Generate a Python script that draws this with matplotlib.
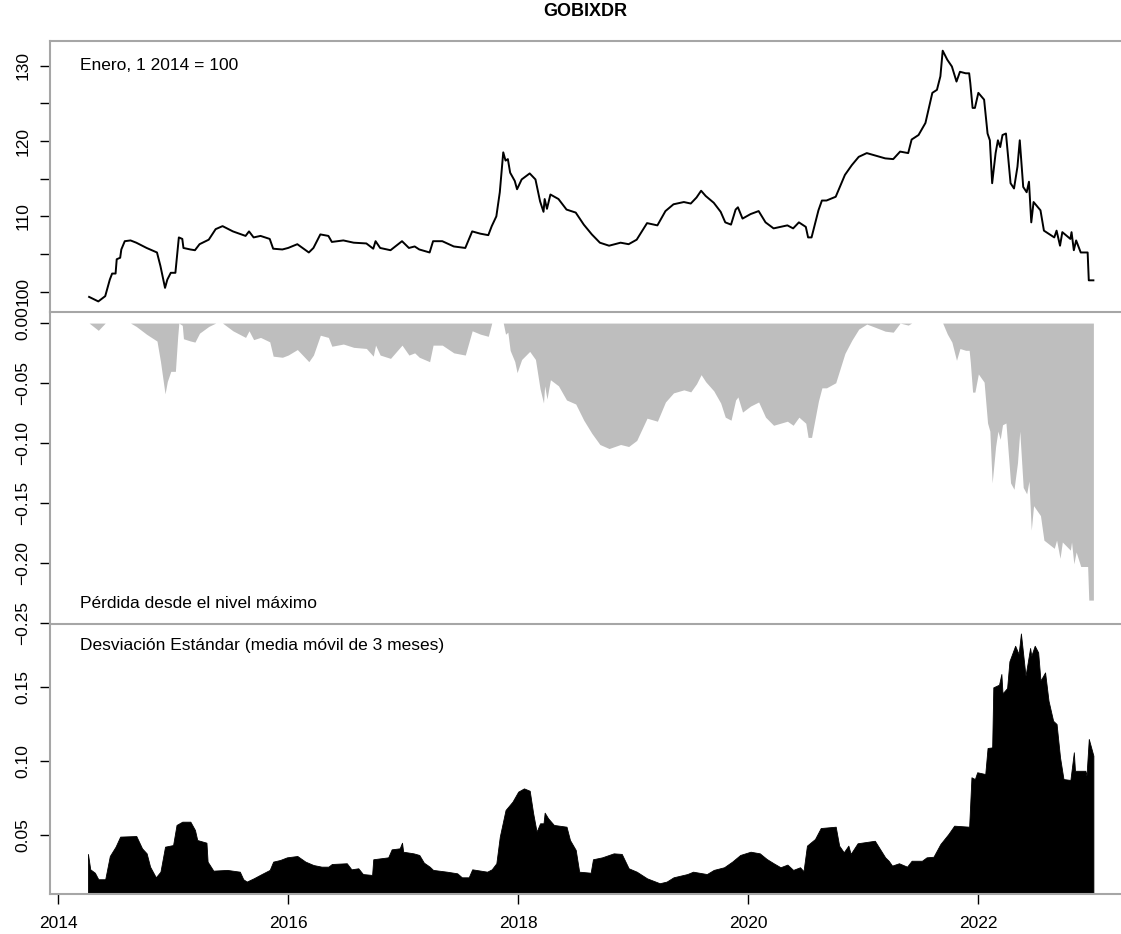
"""GOBIXDR index: level, drawdown and rolling standard deviation."""

import matplotlib
matplotlib.use("Agg")
import matplotlib.pyplot as plt
import numpy as np

plt.rcParams["font.family"] = ["Liberation Sans", "DejaVu Sans"]

TITLE = "GOBIXDR"
INDEX_LABEL = "Enero, 1 2014 = 100"
DD_LABEL = "Pérdida desde el nivel máximo"
STD_LABEL = "Desviación Estándar (media móvil de 3 meses)"

# index level (decimal year, value)
index_years = [
    2014.27, 2014.35, 2014.41, 2014.45, 2014.47, 2014.50, 2014.51, 2014.54, 2014.55, 2014.58,
    2014.63, 2014.68, 2014.77, 2014.86, 2014.89, 2014.93, 2014.95, 2014.98, 2015.02, 2015.04,
    2015.05, 2015.08, 2015.09, 2015.15, 2015.19, 2015.23, 2015.31, 2015.37, 2015.43, 2015.52,
    2015.63, 2015.66, 2015.70, 2015.76, 2015.84, 2015.87, 2015.95, 2016.00, 2016.08, 2016.18,
    2016.22, 2016.28, 2016.35, 2016.38, 2016.48, 2016.57, 2016.68, 2016.74, 2016.76, 2016.80,
    2016.89, 2016.99, 2017.05, 2017.10, 2017.14, 2017.23, 2017.26, 2017.34, 2017.44, 2017.54,
    2017.60, 2017.67, 2017.74, 2017.77, 2017.81, 2017.84, 2017.87, 2017.89, 2017.91, 2017.93,
    2017.97, 2017.99, 2018.03, 2018.10, 2018.15, 2018.19, 2018.22, 2018.23, 2018.25, 2018.28,
    2018.35, 2018.42, 2018.50, 2018.57, 2018.64, 2018.71, 2018.79, 2018.89, 2018.96, 2019.03,
    2019.12, 2019.21, 2019.28, 2019.35, 2019.44, 2019.50, 2019.55, 2019.59, 2019.63, 2019.70,
    2019.76, 2019.80, 2019.85, 2019.89, 2019.91, 2019.95, 2020.02, 2020.09, 2020.15, 2020.22,
    2020.34, 2020.39, 2020.44, 2020.50, 2020.52, 2020.55, 2020.61, 2020.64, 2020.68, 2020.76,
    2020.84, 2020.90, 2020.96, 2021.03, 2021.10, 2021.19, 2021.26, 2021.32, 2021.39, 2021.42,
    2021.48, 2021.54, 2021.60, 2021.64, 2021.67, 2021.69, 2021.73, 2021.77, 2021.81, 2021.84,
    2021.89, 2021.92, 2021.93, 2021.95, 2021.97, 2022.00, 2022.05, 2022.08, 2022.10, 2022.12,
    2022.15, 2022.17, 2022.19, 2022.21, 2022.24, 2022.28, 2022.31, 2022.34, 2022.36, 2022.39,
    2022.42, 2022.44, 2022.46, 2022.48, 2022.54, 2022.57, 2022.66, 2022.68, 2022.71, 2022.73,
    2022.80, 2022.81, 2022.83, 2022.85, 2022.89, 2022.95, 2022.96, 2023.00,
]
index_values = [
    99.3, 98.7, 99.4, 101.6, 102.4, 102.4, 104.3, 104.5, 105.6, 106.7,
    106.8, 106.5, 105.8, 105.2, 103.4, 100.5, 101.6, 102.5, 102.5, 105.6,
    107.2, 107.0, 105.8, 105.6, 105.5, 106.3, 106.9, 108.3, 108.7, 108.0,
    107.4, 108.0, 107.2, 107.4, 107.0, 105.7, 105.6, 105.8, 106.3, 105.2,
    105.8, 107.6, 107.4, 106.6, 106.8, 106.5, 106.4, 105.7, 106.7, 105.8,
    105.5, 106.7, 105.8, 106.0, 105.6, 105.2, 106.7, 106.7, 106.0, 105.8,
    108.0, 107.7, 107.5, 108.7, 110.0, 113.2, 118.5, 117.4, 117.6, 115.8,
    114.7, 113.6, 114.9, 115.7, 114.9, 112.0, 110.6, 112.3, 111.0, 112.9,
    112.3, 110.9, 110.5, 108.9, 107.6, 106.5, 106.1, 106.5, 106.3, 106.9,
    109.1, 108.8, 110.7, 111.6, 111.9, 111.7, 112.5, 113.4, 112.7, 111.8,
    110.6, 109.2, 108.9, 110.9, 111.2, 109.7, 110.3, 110.7, 109.2, 108.4,
    108.8, 108.4, 109.2, 108.6, 107.2, 107.2, 110.8, 112.1, 112.1, 112.6,
    115.5, 116.8, 117.9, 118.4, 118.1, 117.7, 117.6, 118.6, 118.4, 120.2,
    120.8, 122.4, 126.4, 126.8, 128.6, 132.0, 130.8, 129.9, 127.9, 129.2,
    129.0, 129.0, 127.7, 124.4, 124.4, 126.4, 125.5, 121.0, 120.1, 114.4,
    118.4, 120.1, 119.2, 120.8, 121.0, 114.4, 113.7, 116.6, 120.1, 113.9,
    113.2, 114.6, 109.2, 111.9, 110.8, 108.1, 107.2, 108.1, 106.1, 107.9,
    107.0, 107.9, 105.5, 106.8, 105.2, 105.2, 101.5, 101.5,
]

# 3-month rolling standard deviation (decimal year, value)
std_years = [
    2014.26, 2014.28, 2014.32, 2014.35, 2014.41, 2014.45, 2014.50, 2014.54, 2014.68, 2014.73,
    2014.77, 2014.80, 2014.85, 2014.89, 2014.93, 2015.00, 2015.03, 2015.08, 2015.15, 2015.19,
    2015.21, 2015.29, 2015.30, 2015.35, 2015.47, 2015.58, 2015.61, 2015.64, 2015.70, 2015.77,
    2015.84, 2015.87, 2015.93, 2015.99, 2016.08, 2016.15, 2016.22, 2016.29, 2016.35, 2016.38,
    2016.51, 2016.55, 2016.61, 2016.65, 2016.73, 2016.74, 2016.87, 2016.90, 2016.97, 2016.99,
    2017.00, 2017.09, 2017.14, 2017.18, 2017.23, 2017.26, 2017.38, 2017.47, 2017.51, 2017.57,
    2017.60, 2017.73, 2017.77, 2017.81, 2017.84, 2017.89, 2017.95, 2018.00, 2018.05, 2018.10,
    2018.13, 2018.16, 2018.19, 2018.22, 2018.23, 2018.26, 2018.31, 2018.42, 2018.45, 2018.50,
    2018.53, 2018.63, 2018.65, 2018.73, 2018.83, 2018.90, 2018.96, 2019.03, 2019.12, 2019.23,
    2019.29, 2019.35, 2019.47, 2019.52, 2019.64, 2019.70, 2019.79, 2019.86, 2019.93, 2020.02,
    2020.10, 2020.16, 2020.22, 2020.28, 2020.34, 2020.39, 2020.45, 2020.48, 2020.51, 2020.58,
    2020.63, 2020.76, 2020.79, 2020.83, 2020.87, 2020.89, 2020.95, 2021.10, 2021.19, 2021.22,
    2021.25, 2021.31, 2021.38, 2021.42, 2021.51, 2021.55, 2021.61, 2021.67, 2021.74, 2021.79,
    2021.92, 2021.94, 2021.97, 2021.99, 2022.06, 2022.08, 2022.12, 2022.13, 2022.18, 2022.20,
    2022.21, 2022.25, 2022.27, 2022.32, 2022.35, 2022.37, 2022.41, 2022.45, 2022.46, 2022.49,
    2022.52, 2022.54, 2022.58, 2022.61, 2022.65, 2022.68, 2022.71, 2022.74, 2022.80, 2022.83,
    2022.84, 2022.93, 2022.94, 2022.96, 2023.00,
]
std_values = [
    0.0372, 0.0268, 0.0245, 0.0201, 0.0201, 0.0358, 0.0421, 0.0489, 0.0493, 0.0410,
    0.0376, 0.0286, 0.0214, 0.0252, 0.0421, 0.0432, 0.0568, 0.0590, 0.0590, 0.0534,
    0.0466, 0.0448, 0.0320, 0.0259, 0.0264, 0.0252, 0.0201, 0.0185, 0.0207, 0.0236,
    0.0264, 0.0320, 0.0331, 0.0349, 0.0358, 0.0320, 0.0297, 0.0286, 0.0286, 0.0304,
    0.0309, 0.0268, 0.0275, 0.0236, 0.0230, 0.0336, 0.0349, 0.0403, 0.0410, 0.0448,
    0.0387, 0.0376, 0.0365, 0.0313, 0.0286, 0.0264, 0.0252, 0.0241, 0.0214, 0.0214,
    0.0268, 0.0252, 0.0268, 0.0309, 0.0489, 0.0669, 0.0725, 0.0793, 0.0815, 0.0799,
    0.0647, 0.0522, 0.0579, 0.0579, 0.0651, 0.0613, 0.0568, 0.0556, 0.0466, 0.0399,
    0.0252, 0.0245, 0.0336, 0.0349, 0.0376, 0.0372, 0.0275, 0.0252, 0.0207, 0.0174,
    0.0185, 0.0214, 0.0236, 0.0252, 0.0236, 0.0264, 0.0282, 0.0320, 0.0365, 0.0387,
    0.0376, 0.0338, 0.0309, 0.0282, 0.0300, 0.0264, 0.0282, 0.0255, 0.0428, 0.0473,
    0.0547, 0.0556, 0.0428, 0.0383, 0.0428, 0.0372, 0.0444, 0.0461, 0.0349, 0.0326,
    0.0293, 0.0309, 0.0286, 0.0326, 0.0326, 0.0349, 0.0353, 0.0439, 0.0507, 0.0563,
    0.0556, 0.0890, 0.0878, 0.0924, 0.0912, 0.1088, 0.1092, 0.1498, 0.1516, 0.1588,
    0.1457, 0.1493, 0.1674, 0.1779, 0.1723, 0.1862, 0.1576, 0.1764, 0.1711, 0.1779,
    0.1734, 0.1543, 0.1599, 0.1407, 0.1272, 0.1250, 0.1025, 0.0878, 0.0872, 0.1059,
    0.0934, 0.0934, 0.0901, 0.1149, 0.1036,
]

year_ticks = [2014, 2016, 2018, 2020, 2022]

GRID_GRAY = "#a6a6a6"
FILL_GRAY = "#bebebe"
XLIM = (2013.93, 2023.24)
FONT_SIZE = 12.5


def style_panel(ax, show_x=False):
    ax.set_xlim(*XLIM)
    ax.spines["right"].set_visible(False)
    for side in ("left", "top", "bottom"):
        ax.spines[side].set_color(GRID_GRAY)
        ax.spines[side].set_linewidth(1.5)
    if not show_x:
        ax.spines["bottom"].set_visible(False)
        ax.tick_params(axis="x", bottom=False, labelbottom=False)
    else:
        ax.set_xticks(year_ticks)
        ax.set_xticklabels([str(y) for y in year_ticks])
        ax.tick_params(axis="x", direction="out", length=7, width=1,
                       color="black", labelsize=FONT_SIZE, pad=9)
    ax.tick_params(axis="y", direction="out", length=7, width=1,
                   color="black", labelsize=FONT_SIZE, pad=7, labelrotation=90)
    for lbl in ax.get_yticklabels():
        lbl.set_va("center")


def main() -> None:
    years = np.array(index_years)
    level = np.array(index_values)
    drawdown = level / np.maximum.accumulate(level) - 1

    fig = plt.figure(figsize=(11.21, 9.34), dpi=100)
    left = 50 / 1121
    width = 1 - left
    ax_top = fig.add_axes([left, 0.6660, width, 0.2902])
    ax_mid = fig.add_axes([left, 0.3319, width, 0.3340])
    ax_bot = fig.add_axes([left, 0.0428, width, 0.2891])

    # level
    ax_top.plot(years, level, color="black", lw=1.4)
    ax_top.set_ylim(97.3, 133.3)
    ax_top.set_yticks(np.arange(100, 131, 5))
    ax_top.set_yticklabels([str(v) if v % 10 == 0 else "" for v in range(100, 131, 5)])
    style_panel(ax_top)
    ax_top.text(0.028, 0.911, INDEX_LABEL, transform=ax_top.transAxes,
                fontsize=FONT_SIZE, va="center", ha="left")

    # drawdown
    ax_mid.fill_between(years, drawdown, 0, color=FILL_GRAY, lw=0)
    ax_mid.set_ylim(-0.251, 0.0092)
    mid_ticks = [0.0, -0.05, -0.10, -0.15, -0.20, -0.25]
    ax_mid.set_yticks(mid_ticks)
    ax_mid.set_yticklabels([f"{v:.2f}".replace("-", "\u2212") for v in mid_ticks])
    style_panel(ax_mid)
    ax_mid.text(0.028, 0.067, DD_LABEL, transform=ax_mid.transAxes,
                fontsize=FONT_SIZE, va="center", ha="left")

    # rolling std
    ax_bot.fill_between(std_years, std_values, 0, color="black", lw=0.6,
                        edgecolor="black")
    ax_bot.set_ylim(0.0101, 0.1926)
    bot_ticks = [0.05, 0.10, 0.15]
    ax_bot.set_yticks(bot_ticks)
    ax_bot.set_yticklabels([f"{v:.2f}" for v in bot_ticks])
    style_panel(ax_bot, show_x=True)
    ax_bot.text(0.028, 0.919, STD_LABEL, transform=ax_bot.transAxes,
                fontsize=FONT_SIZE, va="center", ha="left")

    fig.text(left + width / 2, 1 - 12 / 934, TITLE, ha="center", va="center",
             fontsize=13, fontweight="bold")

    fig.savefig("out.png", dpi=100)
    plt.close(fig)


if __name__ == "__main__":
    main()
